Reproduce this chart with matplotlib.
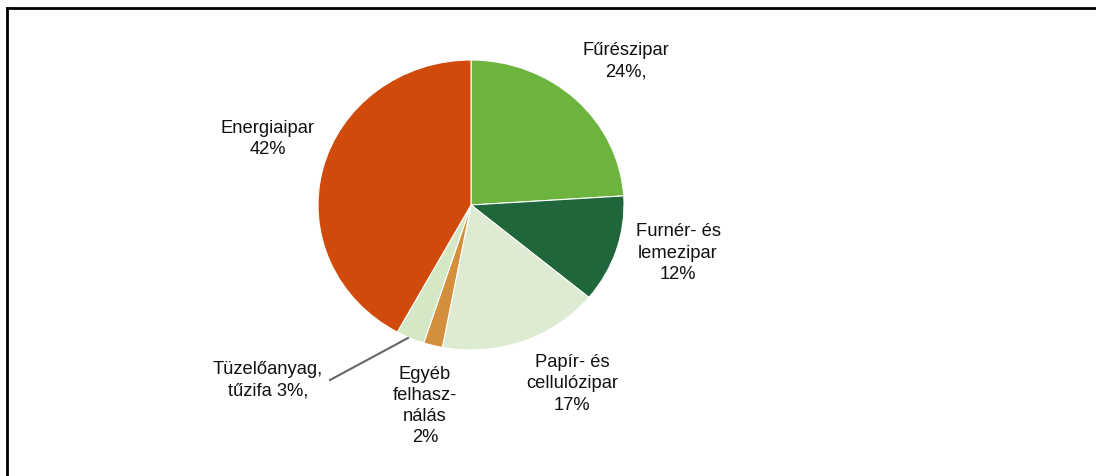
import matplotlib
matplotlib.use("Agg")
import matplotlib.pyplot as plt
from matplotlib.lines import Line2D

plt.rcParams['font.family'] = ['Liberation Sans', 'DejaVu Sans']

# data: shares of wood use, clockwise from 12 o'clock
labels = ['Fűrészipar\n24%,', 'Furnér- és\nlemezipar\n12%', 'Papír- és\ncellulózipar\n17%',
          'Egyéb\nfelhasz-\nnálás\n2%', 'Tüzelőanyag,\ntűzifa 3%,', 'Energiaipar\n42%']
shares = [24, 12, 17, 2, 3, 42]
colors = ['#6db43f', '#1f673b', '#dcebd2', '#d38f3c', '#d4e8c6', '#cf4a0b']

W, H = 1096, 477
fig = plt.figure(figsize=(W / 100, H / 100), dpi=100)

# pie sits in an ellipse box (pixel coords, measured from top-left)
px0, px1, py0, py1 = 318, 624, 61, 351
ax = fig.add_axes([px0 / W, 1 - py1 / H, (px1 - px0) / W, (py1 - py0) / H])
wedges, _ = ax.pie(shares, colors=colors, startangle=90, counterclock=False,
                   wedgeprops=dict(edgecolor='white', linewidth=0.8))
ax.set_aspect('auto')
ax.set_xlim(-1, 1)
ax.set_ylim(-1, 1)

# overlay axes in pixel coords for labels
ov = fig.add_axes([0, 0, 1, 1])
ov.set_xlim(0, W)
ov.set_ylim(H, 0)
ov.axis('off')

label_pos = [(626, 61), (678, 253), (572, 384), (425, 406), (268, 380), (268, 139)]
for text, (x, y) in zip(labels, label_pos):
    ov.text(x, y, text, ha='center', va='center', fontsize=13.2,
            linespacing=1.32, color='#111111')

# leader line for the small fuel-wood slice
ov.add_line(Line2D([408, 330], [339, 381], color='#666666', lw=1.5))

# frame (top and left edges visible)
ov.add_line(Line2D([7, W], [9, 9], color='black', lw=2))
ov.add_line(Line2D([7, 7], [9, H], color='black', lw=2))

fig.savefig('out.png', dpi=100, facecolor='white')
